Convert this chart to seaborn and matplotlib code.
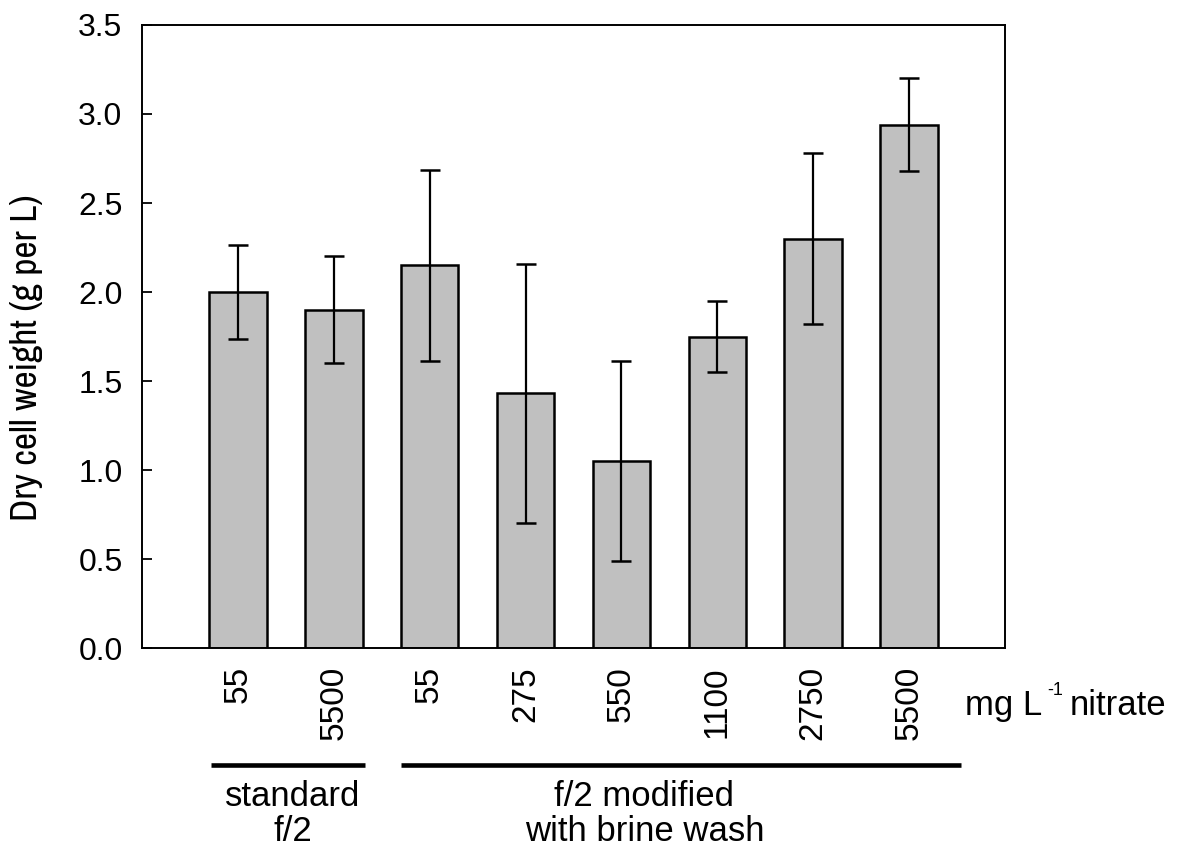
import matplotlib
matplotlib.use("Agg")
import matplotlib.pyplot as plt
import seaborn as sns
import numpy as np

# data
nitrate_labels = ["55", "5500", "55", "275", "550", "1100", "2750", "5500"]
dry_weight = [2.00, 1.90, 2.15, 1.43, 1.05, 1.75, 2.30, 2.94]
dry_weight_err = [0.265, 0.30, 0.535, 0.725, 0.56, 0.20, 0.48, 0.26]
yticks = [0.0, 0.5, 1.0, 1.5, 2.0, 2.5, 3.0, 3.5]

sns.set_style("white")
plt.rcParams['font.family'] = ['Liberation Sans', 'DejaVu Sans']
plt.rcParams['text.color'] = 'black'
plt.rcParams['axes.labelcolor'] = 'black'
plt.rcParams['xtick.color'] = 'black'
plt.rcParams['ytick.color'] = 'black'
narrow = ['Archivo Narrow', 'Roboto Condensed', 'Liberation Sans', 'DejaVu Sans']

W, H = 1179, 850
fig = plt.figure(figsize=(W / 100, H / 100), dpi=100)
ax = fig.add_axes([0.1204, 0.2376, 0.732, 0.733])

pos = np.arange(len(dry_weight))
sns.barplot(x=pos, y=dry_weight, color="#c0c0c0", saturation=1, width=0.6,
            edgecolor="black", linewidth=1.8, ax=ax)
ax.errorbar(pos, dry_weight, yerr=dry_weight_err, fmt="none", ecolor="black",
            elinewidth=1.6, capsize=7.5, capthick=1.8)

ax.set_xlim(-1, 8)
ax.set_ylim(0, 3.5)
ax.set_yticks(yticks)
ax.set_yticklabels([f"{t:.1f}" for t in yticks], fontsize=23)
ax.set_xticks(pos)
ax.set_xticklabels(nitrate_labels, rotation=90, fontsize=24, va="top")
ax.tick_params(axis="y", direction="in", length=7, width=1.3, left=True, pad=14)
ax.tick_params(axis="x", length=0, pad=13)
for s in ax.spines.values():
    s.set_color("black")
    s.set_linewidth(1.4)
ax.set_xlabel("")
ax.set_ylabel("Dry cell weight (g per L)", fontsize=27, family=narrow)
ax.yaxis.set_label_coords(-0.1147, 0.466)

# x axis unit label with a small raised "-1"
fig.text(965 / W, 1 - 715 / H, "mg L", fontsize=25, va="baseline")
fig.text(1047 / W, 1 - 695 / H, "-1", fontsize=13, va="baseline")
fig.text(1070 / W, 1 - 715 / H, "nitrate", fontsize=25, va="baseline")

# group brackets under the tick labels
trans = ax.get_xaxis_transform()
ax.plot([-0.28, 1.33], [-0.1878, -0.1878], color="black", lw=3.3,
        transform=trans, clip_on=False, solid_capstyle="butt")
ax.plot([1.70, 7.54], [-0.1878, -0.1878], color="black", lw=3.3,
        transform=trans, clip_on=False, solid_capstyle="butt")
groups = [(0.57, "standard", "f/2"), (4.24, "f/2 modified", "with brine wash")]
for gx, line1, line2 in groups:
    ax.text(gx, -0.2536, line1, transform=trans, ha="center", va="baseline", fontsize=25)
    ax.text(gx, -0.3098, line2, transform=trans, ha="center", va="baseline", fontsize=25)

fig.savefig("out.png", dpi=100)
